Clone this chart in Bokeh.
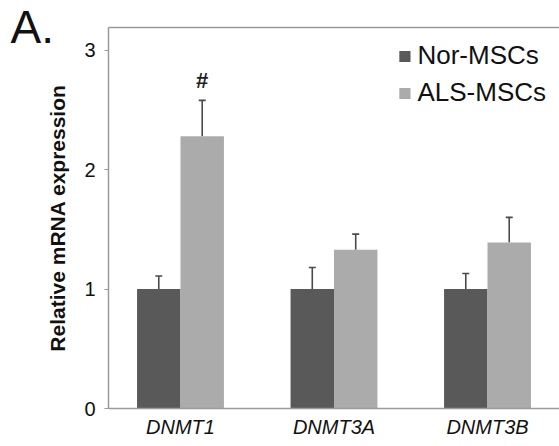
from bokeh.plotting import figure
from bokeh.models import (Range1d, FixedTicker, LinearAxis, Whisker, TeeHead,
                          ColumnDataSource, Label, Legend, LegendItem)
from bokeh.core.properties import value
from bokeh.embed import file_html
from bokeh.resources import INLINE

# ---- data ----
genes = ["DNMT1", "DNMT3A", "DNMT3B"]
nor_mean = [1.0, 1.0, 1.0]
nor_err = [0.11, 0.18, 0.13]
als_mean = [2.28, 1.33, 1.39]
als_err = [0.30, 0.13, 0.21]
significance = ["#", "", ""]
y_ticks = [0, 1, 2, 3]

NOR_COLOR = "#595959"
ALS_COLOR = "#ababab"
AXIS_COLOR = "#9a9a9a"
FONT = "Liberation Sans"

idx = [i + 0.5 for i in range(len(genes))]
bw = 0.283
nor_x = [c - bw / 2 for c in idx]
als_x = [c + bw / 2 for c in idx]

nor_src = ColumnDataSource(dict(x=nor_x, top=nor_mean,
                                upper=[m + e for m, e in zip(nor_mean, nor_err)]))
als_src = ColumnDataSource(dict(x=als_x, top=als_mean,
                                upper=[m + e for m, e in zip(als_mean, als_err)],
                                sig=significance))

p = figure(width=559, height=446, output_backend="svg", toolbar_location=None,
           x_range=Range1d(0.031, 2.969), y_range=Range1d(0, 3.19),
           min_border_left=105, min_border_top=27, min_border_right=0,
           min_border_bottom=38, outline_line_color=None)
p.grid.visible = False
p.background_fill_color = "white"
p.border_fill_color = "white"

r_nor = p.vbar(x="x", top="top", bottom=0, width=bw, source=nor_src,
               fill_color=NOR_COLOR, line_color=None)
r_als = p.vbar(x="x", top="top", bottom=0, width=bw, source=als_src,
               fill_color=ALS_COLOR, line_color=None)

for src in (nor_src, als_src):
    w = Whisker(source=src, base="x", lower="top", upper="upper",
                line_color="#4a4a4a", line_width=1.6,
                upper_head=TeeHead(size=7, line_color="#4a4a4a", line_width=1.6),
                lower_head=None)
    p.add_layout(w)

p.text(x="x", y="upper", text="sig", source=als_src, text_align="center",
       text_baseline="bottom", y_offset=-7, text_font=value(FONT),
       text_font_style="bold", text_font_size="22px", text_color="#222222")

# x axis
xa = p.xaxis[0]
xa.ticker = FixedTicker(ticks=idx)
xa.major_label_overrides = {c: g for c, g in zip(idx, genes)}
xa.major_label_text_font = FONT
xa.major_label_text_font_style = "italic"
xa.major_label_text_font_size = "20px"
xa.major_label_text_color = "#111111"
xa.major_label_standoff = 1
xa.major_tick_line_color = None
xa.minor_tick_line_color = None
xa.axis_line_color = AXIS_COLOR
xa.axis_line_width = 1.5

# y axis
ya = p.yaxis[0]
ya.ticker = FixedTicker(ticks=y_ticks)
ya.major_label_text_font = FONT
ya.major_label_text_font_size = "20px"
ya.major_label_text_color = "#111111"
ya.major_label_standoff = 9
ya.major_tick_out = 4
ya.major_tick_in = 0
ya.major_tick_line_color = AXIS_COLOR
ya.minor_tick_line_color = None
ya.axis_line_color = AXIS_COLOR
ya.axis_line_width = 1.5
ya.axis_label = "Relative mRNA expression"
ya.axis_label_text_font = FONT
ya.axis_label_text_font_style = "bold"
ya.axis_label_text_font_size = "21px"
ya.axis_label_text_color = "#111111"
ya.axis_label_standoff = 12

# top border line
top_axis = LinearAxis(major_tick_line_color=None, minor_tick_line_color=None,
                      major_label_text_font_size="0px", axis_line_color=AXIS_COLOR,
                      axis_line_width=1.5, ticker=FixedTicker(ticks=[]))
p.add_layout(top_axis, "above")

legend = Legend(items=[LegendItem(label="Nor-MSCs", renderers=[r_nor]),
                       LegendItem(label="ALS-MSCs", renderers=[r_als])],
                location="top_right", border_line_color=None,
                background_fill_alpha=0, padding=0, margin=13, spacing=6,
                glyph_width=14, glyph_height=14, label_standoff=6,
                label_text_font=FONT, label_text_font_size="26px",
                label_text_color="#111111")
p.add_layout(legend)

# panel label in a side panel (side-panel annotations are not clipped to the frame)
p.add_layout(Label(x=10, y=382, x_units="screen", y_units="screen", text="A.",
                   text_font=FONT, text_font_size="46px", text_color="#111111",
                   text_baseline="alphabetic", text_align="left"), "left")

open("out.html", "w").write(file_html(p, INLINE))
